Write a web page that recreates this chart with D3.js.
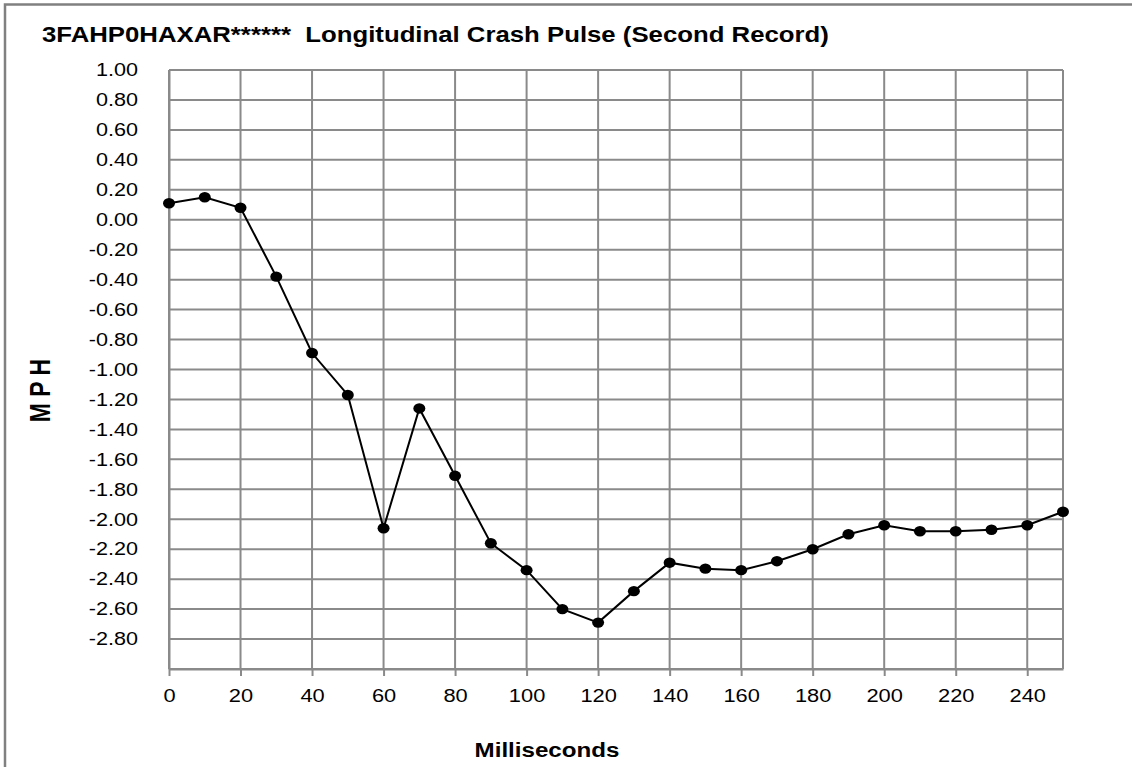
<!DOCTYPE html>
<html>
<head>
<meta charset="utf-8">
<script src="https://cdn.jsdelivr.net/npm/d3@7"></script>
<style>
  body { margin: 0; background: #fff; }
  text { font-family: Arial, "Liberation Sans", sans-serif; fill: #000; }
</style>
</head>
<body>
<div id="application"></div>
<script>
(function crashpulse() {

  var width = 1132;
  var height = 767;

  // time in ms and delta-V in MPH
  var ms = [0, 10, 20, 30, 40, 50, 60, 70, 80, 90, 100, 110, 120,
    130, 140, 150, 160, 170, 180, 190, 200, 210, 220, 230, 240, 250];
  var mph = [0.11, 0.15, 0.08, -0.38, -0.89, -1.17, -2.06, -1.26, -1.71, -2.16, -2.34, -2.60, -2.69,
    -2.48, -2.29, -2.33, -2.34, -2.28, -2.20, -2.10, -2.04, -2.08, -2.08, -2.07, -2.04, -1.95];

  var x_ticks = [0, 20, 40, 60, 80, 100, 120, 140, 160, 180, 200, 220, 240];
  var y_ticks = [1.0, 0.8, 0.6, 0.4, 0.2, 0.0, -0.2, -0.4, -0.6, -0.8, -1.0, -1.2, -1.4,
    -1.6, -1.8, -2.0, -2.2, -2.4, -2.6, -2.8];
  var y_grid = y_ticks.concat([-3.0]);

  var title = "3FAHP0HAXAR******  Longitudinal Crash Pulse (Second Record)";
  var x_title = "Milliseconds";
  var y_title = "M P H";

  var plot = { left: 169, right: 1063, top: 70, bottom: 669 };
  var grid_color = '#8a8a8a';
  var stretch = 1.15;

  var svg = d3.select("#application")
    .append('svg')
    .attr('width', width)
    .attr('height', height);

  svg.append('rect')
    .attr('width', width)
    .attr('height', height)
    .attr('fill', '#fff');

  // outer frame (only top and left edges fall inside the picture)
  svg.append('rect')
    .attr('x', 5)
    .attr('y', 4.5)
    .attr('width', 1300)
    .attr('height', 900)
    .attr('fill', 'none')
    .attr('stroke', '#808080')
    .attr('stroke-width', 2.5);

  var x = d3.scaleLinear()
    .domain([0, 250])
    .range([plot.left, plot.right]);

  var y = d3.scaleLinear()
    .domain([-3, 1])
    .range([plot.bottom, plot.top]);

  // grid
  var grid = svg.append('g')
    .attr('stroke', grid_color)
    .attr('stroke-width', 2);

  grid.selectAll('.hgrid')
    .data(y_grid)
    .enter()
    .append('line')
    .attr('class', 'hgrid')
    .attr('x1', plot.left)
    .attr('x2', plot.right)
    .attr('y1', function(d) { return y(d); })
    .attr('y2', function(d) { return y(d); });

  grid.selectAll('.vgrid')
    .data(x_ticks.concat([250]))
    .enter()
    .append('line')
    .attr('class', 'vgrid')
    .attr('x1', function(d) { return x(d); })
    .attr('x2', function(d) { return x(d); })
    .attr('y1', plot.top)
    .attr('y2', plot.bottom);

  // x axis
  var x_axis = svg.append('g')
    .attr('transform', 'translate(0,' + plot.bottom + ')')
    .call(d3.axisBottom(x)
      .tickValues(x_ticks)
      .tickSize(7)
      .tickSizeOuter(0)
      .tickPadding(13)
      .tickFormat(function(d) { return String(d); }));

  x_axis.select('.domain').attr('stroke', grid_color).attr('stroke-width', 2);
  x_axis.selectAll('.tick line').attr('stroke', grid_color).attr('stroke-width', 2);
  x_axis.selectAll('.tick text')
    .style('font-size', '19px')
    .style('font-family', 'Arial, "Liberation Sans", sans-serif')
    .attr('transform', 'scale(' + stretch + ',1)')
    .attr('x', 0);

  // y axis labels only (grid carries the lines)
  var y_axis = svg.append('g')
    .attr('transform', 'translate(' + plot.left + ',0)')
    .call(d3.axisLeft(y)
      .tickValues(y_ticks)
      .tickSize(0)
      .tickPadding(31)
      .tickFormat(function(d) { return d.toFixed(2); }));

  y_axis.select('.domain').attr('stroke', grid_color).attr('stroke-width', 2);
  y_axis.selectAll('.tick text')
    .style('font-size', '18px')
    .style('font-family', 'Arial, "Liberation Sans", sans-serif')
    .attr('x', 0)
    .attr('transform', 'translate(-31,0) scale(' + (stretch + 0.05) + ',1)');

  // series
  var points = ms.map(function(d, i) { return [d, mph[i]]; });

  var line = d3.line()
    .x(function(d) { return x(d[0]); })
    .y(function(d) { return y(d[1]); });

  svg.append('path')
    .datum(points)
    .attr('d', line)
    .attr('fill', 'none')
    .attr('stroke', '#000')
    .attr('stroke-width', 2);

  svg.selectAll('.dot')
    .data(points)
    .enter()
    .append('ellipse')
    .attr('class', 'dot')
    .attr('cx', function(d) { return x(d[0]); })
    .attr('cy', function(d) { return y(d[1]); })
    .attr('rx', 6)
    .attr('ry', 5.2)
    .attr('fill', '#000');

  // titles
  svg.append('text')
    .attr('transform', 'translate(42,42) scale(1.12,1)')
    .style('font-size', '23px')
    .style('font-weight', 'bold')
    .style('white-space', 'pre')
    .text(title);

  svg.append('text')
    .attr('transform', 'translate(547,757) scale(' + stretch + ',1)')
    .attr('text-anchor', 'middle')
    .style('font-size', '21px')
    .style('font-weight', 'bold')
    .text(x_title);

  svg.append('text')
    .attr('transform', 'translate(50,390.5) scale(1.3,1) rotate(-90)')
    .attr('text-anchor', 'middle')
    .style('font-size', '23px')
    .style('font-weight', 'bold')
    .style('white-space', 'pre')
    .text(y_title);

})();
</script>
</body>
</html>
